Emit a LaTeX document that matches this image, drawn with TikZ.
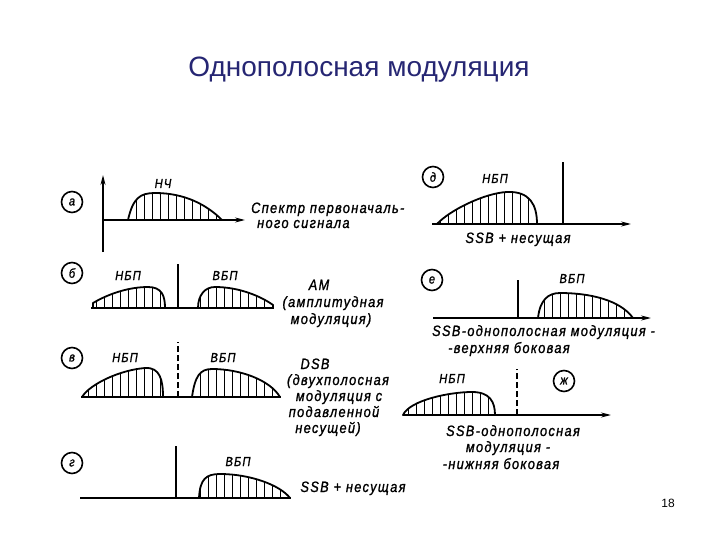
\documentclass[tikz,border=0pt]{standalone}
\usepackage{fontspec}
\setmainfont{Liberation Sans}
\newfontfamily\gostfont{Liberation Sans}[FakeStretch=0.85,LetterSpace=9,FakeBold=1.2]
\usetikzlibrary{arrows.meta}
\definecolor{titleblue}{RGB}{38,38,115}
\newcommand\hatchedhump[1]{%
  \begin{scope}
    \clip #1;
    \foreach \hx in {0,8,...,720}{\draw[hatchline] (\hx,0) -- (\hx,540);}
  \end{scope}
  \draw[humpline] #1;}
\begin{document}
\begin{tikzpicture}[x=1pt,y=-1pt,
  hatchline/.style={line width=1pt},
  humpline/.style={line width=1.8pt, line join=round},
  axisline/.style={line width=1.4pt},
  axisarrow/.style={line width=1.4pt,-{Stealth[length=10pt,width=5pt]}},
  carrier/.style={line width=1.8pt},
  dcarrier/.style={line width=1.6pt, dash pattern=on 6pt off 3pt},
  tag/.style={draw, circle, line width=1.6pt, minimum size=21pt, inner sep=0pt, font=\gostfont\itshape\fontsize{13}{13}\selectfont},
  lbl/.style={inner sep=0pt, anchor=base, font=\gostfont\itshape\fontsize{15}{15}\selectfont},
  side/.style={inner sep=0pt, anchor=base, font=\gostfont\itshape\fontsize{13}{13}\selectfont},
]
\useasboundingbox (0,0) rectangle (720,540);
\fill[white] (0,0) rectangle (720,540);

\node[text=titleblue, font=\fontsize{28}{28}\selectfont, inner sep=0pt] (title) at (359,70) {Однополосная модуляция};
\node[font=\fontsize{12}{12}\selectfont, inner sep=0pt] (page) at (668,503) {18};

% ---------- а ----------
\node[tag] (ta) at (72,202) {а};
\coordinate (a0) at (103,220); \coordinate (aup) at (103,175);
\coordinate (adn) at (103,252); \coordinate (art) at (245,220);
\hatchedhump{(128,220) .. controls (133,198) and (140,193) .. (155,193) .. controls (185,193) and (207,205) .. (222,220) -- cycle}
\draw[axisarrow] (adn) -- (aup);
\draw[axisarrow] (a0) -- (art);
\node[side] (nch) at (163,188) {НЧ};
\node[lbl, anchor=base west] (a1) at (251,213) {Спектр первоначаль-};
\node[lbl, anchor=base west] (a2) at (257,228) {ного сигнала};

% ---------- б ----------
\node[tag] (tb) at (72,273) {б};
\coordinate (b0) at (91,308); \coordinate (b1) at (274,308);
\coordinate (bc0) at (178,308); \coordinate (bc1) at (178,264);
\hatchedhump{(93,308) -- (93,303) .. controls (110,293) and (130,287) .. (148,287) .. controls (162,287) and (165,296) .. (165,308) -- cycle}
\hatchedhump{(198,308) .. controls (198,295) and (205,287) .. (215,287) .. controls (240,287) and (262,297) .. (273,305) -- (273,308) -- cycle}
\draw[axisline] (b0) -- (b1);
\draw[carrier] (bc0) -- (bc1);
\node[side] (bn) at (128,280) {НБП};
\node[side] (bv) at (225,280) {ВБП};
\node[lbl] (b2) at (319,290) {АМ};
\node[lbl] (b3) at (333,307) {(амплитудная};
\node[lbl] (b4) at (331,324) {модуляция)};

% ---------- в ----------
\node[tag] (tv) at (72,358) {в};
\coordinate (v0) at (81,397); \coordinate (v1) at (281,397);
\coordinate (vc0) at (178,397); \coordinate (vc1) at (178,342);
\hatchedhump{(82,397) .. controls (90,384) and (120,370) .. (145,368) .. controls (160,367) and (163,380) .. (163,397) -- cycle}
\hatchedhump{(192,397) .. controls (195,376) and (200,369) .. (212,369) .. controls (240,369) and (270,380) .. (280,397) -- cycle}
\draw[axisline] (v0) -- (v1);
\draw[dcarrier] (vc0) -- (vc1);
\node[side] (vn) at (125,362) {НБП};
\node[side] (vv) at (223,362) {ВБП};
\node[lbl] (v2) at (315,369) {DSB};
\node[lbl] (v3) at (338,385) {(двухполосная};
\node[lbl] (v4) at (339,401) {модуляция с};
\node[lbl] (v5) at (334,417) {подавленной};
\node[lbl] (v6) at (328,433) {несущей)};

% ---------- г ----------
\node[tag] (tg) at (72,463) {г};
\coordinate (g0) at (80,498); \coordinate (g1) at (291,498);
\coordinate (gc0) at (176,498); \coordinate (gc1) at (176,446);
\hatchedhump{(199,498) .. controls (200,479) and (206,474) .. (220,474) .. controls (250,474) and (280,485) .. (290,498) -- cycle}
\draw[axisline] (g0) -- (g1);
\draw[carrier] (gc0) -- (gc1);
\node[side] (gv) at (238,466) {ВБП};
\node[lbl] (g2) at (353,492) {SSB + несущая};

% ---------- д ----------
\node[tag] (td) at (433,177) {д};
\coordinate (d0) at (432,224); \coordinate (d1) at (631,224);
\coordinate (dc0) at (563,224); \coordinate (dc1) at (563,162);
\hatchedhump{(437,224) .. controls (450,210) and (485,193) .. (507,192) .. controls (530,191) and (537,205) .. (537,224) -- cycle}
\draw[axisarrow] (d0) -- (d1);
\draw[carrier] (dc0) -- (dc1);
\node[side] (dn) at (495,183) {НБП};
\node[lbl] (d2) at (518,243) {SSB + несущая};

% ---------- е ----------
\node[tag] (te) at (432,280) {е};
\coordinate (e0) at (433,318); \coordinate (e1) at (651,318);
\coordinate (ec0) at (518,318); \coordinate (ec1) at (518,280);
\hatchedhump{(538,318) .. controls (540,300) and (548,293) .. (560,293) .. controls (590,293) and (620,300) .. (633,318) -- cycle}
\draw[axisarrow] (e0) -- (e1);
\draw[carrier] (ec0) -- (ec1);
\node[side] (ev) at (572,283) {ВБП};
\node[lbl, anchor=base west] (e2) at (432,336) {SSB-однополосная модуляция -};
\node[lbl, anchor=base west] (e3) at (448,353) {-верхняя боковая};

% ---------- ж ----------
\node[tag] (tzh) at (564,381) {ж};
\coordinate (z0) at (403,415); \coordinate (z1) at (611,415);
\coordinate (zc0) at (517,415); \coordinate (zc1) at (517,369);
\hatchedhump{(403,415) .. controls (410,400) and (450,392) .. (472,392) .. controls (490,392) and (495,402) .. (495,415) -- cycle}
\draw[axisarrow] (z0) -- (z1);
\draw[dcarrier] (zc0) -- (zc1);
\node[side] (zn) at (452,383) {НБП};
\node[lbl] (z2) at (513,436) {SSB-однополосная};
\node[lbl] (z3) at (508,452) {модуляция -};
\node[lbl] (z4) at (501,469) {-нижняя боковая};
\end{tikzpicture}
\end{document}
